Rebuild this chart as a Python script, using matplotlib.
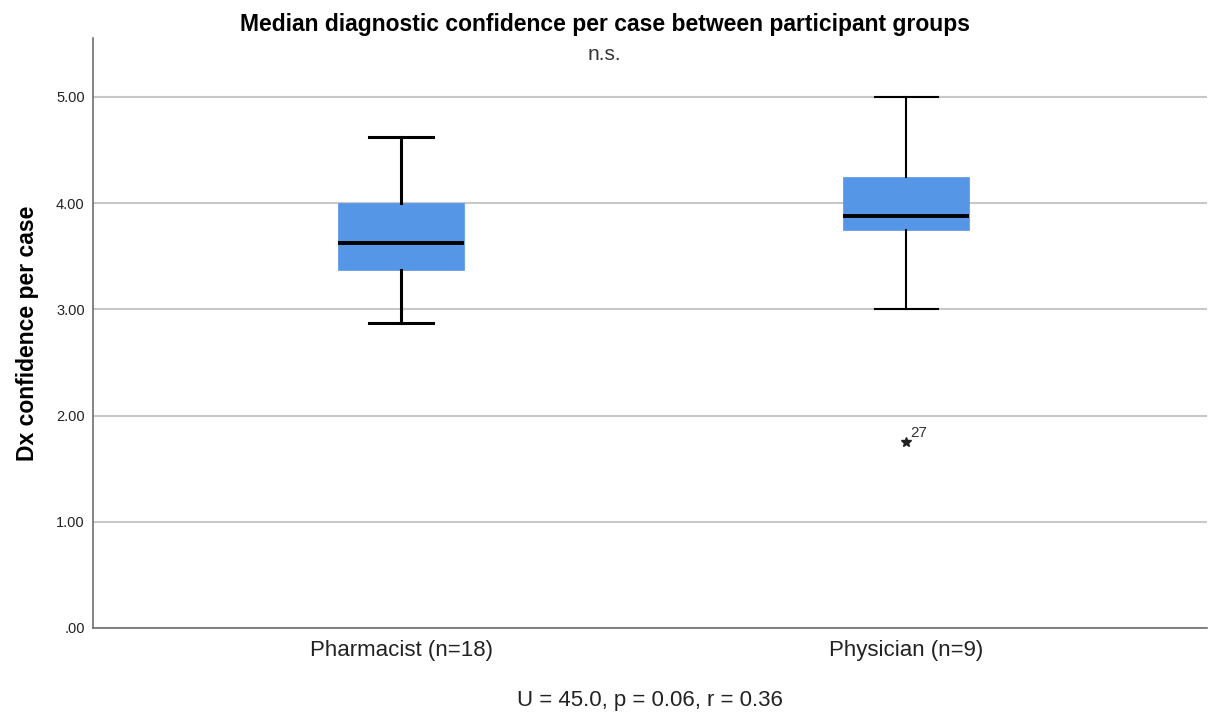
import matplotlib
matplotlib.use("Agg")
import matplotlib.pyplot as plt

plt.rcParams['font.family'] = ['Liberation Sans', 'DejaVu Sans']

categories = ["Pharmacist (n=18)", "Physician (n=9)"]
whislo = [2.875, 3.0]
q1 = [3.375, 3.75]
med = [3.625, 3.875]
q3 = [4.0, 4.25]
whishi = [4.625, 5.0]
fliers = [[], [1.75]]
flier_labels = [[], ["27"]]
yticks = [0, 1, 2, 3, 4, 5]
ytick_labels = [".00", "1.00", "2.00", "3.00", "4.00", "5.00"]

fig = plt.figure(figsize=(12.09, 7.15), dpi=100)
ax = fig.add_axes([0.0769, 0.1217, 0.9215, 0.8252])

stats = []
for i in range(len(categories)):
    stats.append(dict(label=categories[i], whislo=whislo[i], q1=q1[i], med=med[i],
                      q3=q3[i], whishi=whishi[i], fliers=[]))
positions = [1, 2]
arts = ax.bxp(stats, positions=positions, widths=0.25, patch_artist=True, showfliers=False,
              boxprops=dict(facecolor='#5596E6', edgecolor='#5596E6', linewidth=0.5),
              medianprops=dict(color='black', linewidth=2.8),
              whiskerprops=dict(color='black', linewidth=1.8),
              capprops=dict(color='black', linewidth=1.8), zorder=3)
lws = [2.2, 1.5]
for i, lw in enumerate(lws):
    for a in arts['whiskers'][2 * i:2 * i + 2] + arts['caps'][2 * i:2 * i + 2]:
        a.set_linewidth(lw)

for i, (fv, fl) in enumerate(zip(fliers, flier_labels)):
    for v, lab in zip(fv, fl):
        ax.plot([positions[i]], [v], marker='*', color='#222222', markersize=7, zorder=4)
        ax.annotate(lab, (positions[i], v), xytext=(3, 4), textcoords='offset points',
                    fontsize=11, color='#333333')

ax.set_xlim(0.39, 2.596)
ax.set_ylim(0, 5.555)
ax.set_yticks(yticks)
ax.set_yticklabels(ytick_labels, fontsize=10.5, color='#222222')
ax.set_xticks(positions)
ax.set_xticklabels(categories, fontsize=16, color='#222222')
ax.tick_params(axis='x', length=0, pad=9)
ax.tick_params(axis='y', length=0, pad=6)
ax.grid(axis='y', color='#c8c8c8', linewidth=1.5, zorder=0)
ax.set_axisbelow(True)
for s in ['top', 'right']:
    ax.spines[s].set_visible(False)
for s in ['left', 'bottom']:
    ax.spines[s].set_color('#707070')
    ax.spines[s].set_linewidth(1.2)

ax.set_ylabel("Dx confidence per case", fontsize=16.5, fontweight='bold', labelpad=12)
fig.text(0.5, 0.957, "Median diagnostic confidence per case between participant groups",
         ha='center', va='baseline', fontsize=16.5, fontweight='bold')
fig.text(0.5, 0.916, "n.s.", ha='center', va='baseline', fontsize=15, color='#333333')
ax.text(0.5, 0.012, "U = 45.0, p = 0.06, r = 0.36", ha='center', va='baseline',
        fontsize=16, color='#222222', transform=ax.get_xaxis_transform().__class__(ax.transAxes, fig.transFigure))

fig.savefig("out.png", dpi=100)
